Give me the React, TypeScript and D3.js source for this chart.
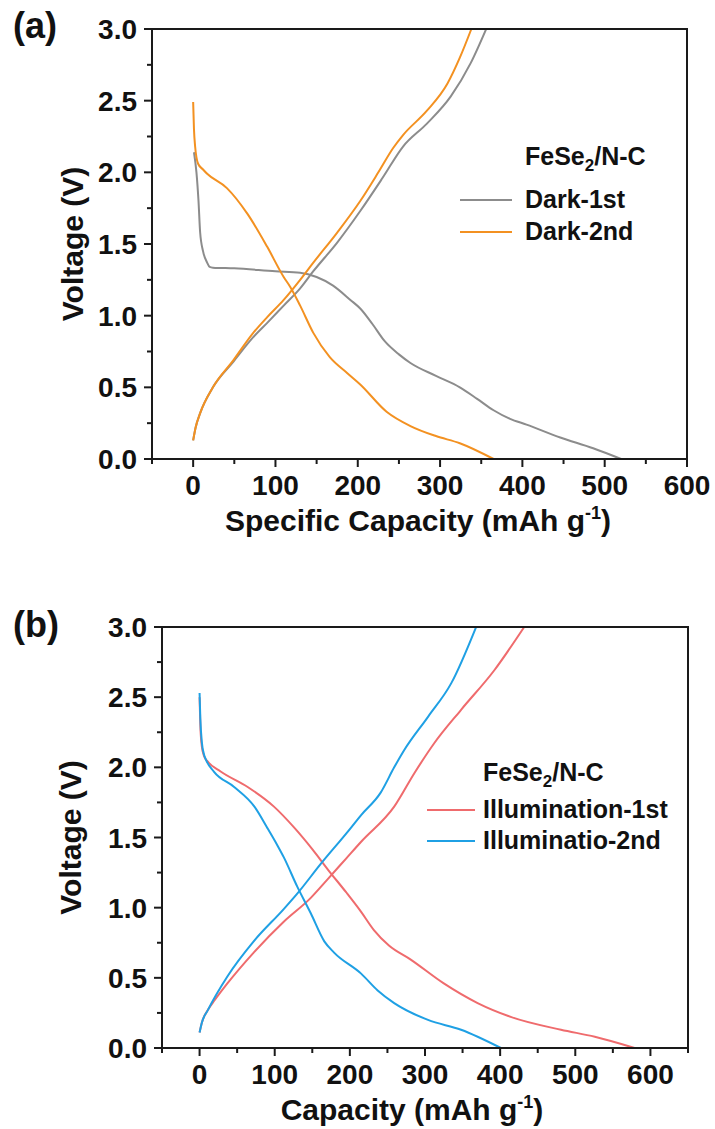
import React from "react";
import * as d3 from "d3";

type Pt = [number, number];

// ---------- Panel (a) data: capacity (mAh/g), voltage (V) ----------
const dark1Discharge: Pt[] = [[1,2.14],[4,2.0],[6.5,1.8],[8.5,1.58],[12,1.45],[17,1.37],[20,1.34],[24,1.335],[50,1.33],[100,1.31],[130,1.30],[150,1.27],[170,1.21],[191,1.11],[203,1.05],[218,0.94],[233,0.82],[250,0.73],[264,0.67],[295,0.58],[324,0.50],[345,0.42],[365,0.34],[385,0.28],[405,0.24],[446,0.15],[486,0.075],[520,0]];
const dark1Charge: Pt[] = [[0,0.13],[3,0.22],[8.5,0.32],[24,0.50],[49,0.68],[73,0.85],[90,0.95],[110,1.07],[130,1.19],[146,1.31],[175,1.51],[203,1.73],[230,1.96],[255,2.18],[284,2.34],[313,2.53],[337,2.76],[356,3.0]];
const dark2Discharge: Pt[] = [[0,2.49],[1,2.3],[2.4,2.18],[6,2.06],[12,2.02],[17,1.99],[41,1.89],[66,1.71],[90,1.48],[110,1.27],[118,1.2],[130,1.07],[146,0.88],[166,0.71],[187,0.60],[203,0.52],[235,0.33],[264,0.23],[295,0.16],[324,0.11],[365,0]];
const dark2Charge: Pt[] = [[0,0.13],[3,0.22],[8.5,0.32],[24,0.50],[49,0.69],[73,0.88],[90,0.99],[110,1.11],[130,1.25],[146,1.37],[175,1.58],[203,1.80],[225,2.0],[243,2.17],[255,2.26],[284,2.43],[309,2.62],[324,2.80],[338,3.0]];

// ---------- Panel (b) data ----------
const illum1Discharge: Pt[] = [[0,2.5],[1,2.3],[3,2.15],[6,2.08],[11,2.04],[28,1.97],[64,1.86],[99,1.72],[126,1.57],[151,1.41],[171,1.27],[195,1.11],[215,0.97],[232,0.84],[252,0.73],[281,0.63],[325,0.46],[370,0.32],[415,0.22],[481,0.13],[526,0.08],[579,0]];
const illum1Charge: Pt[] = [[0,0.11],[3,0.18],[11,0.27],[20,0.34],[37,0.46],[72,0.68],[112,0.9],[148,1.07],[170,1.2],[195,1.35],[215,1.47],[259,1.72],[286,1.96],[312,2.17],[348,2.41],[392,2.69],[432,3.0]];
const illum2Discharge: Pt[] = [[0,2.53],[1,2.35],[3,2.18],[6,2.09],[8,2.06],[19,1.97],[46,1.86],[73,1.72],[90,1.57],[104,1.44],[112,1.36],[130,1.15],[148,0.96],[166,0.76],[179,0.68],[215,0.53],[237,0.41],[259,0.32],[304,0.20],[348,0.13],[401,0]];
const illum2Charge: Pt[] = [[0,0.11],[3,0.18],[11,0.27],[37,0.51],[72,0.76],[112,0.99],[130,1.10],[161,1.31],[197,1.54],[215,1.66],[241,1.82],[259,2.0],[272,2.12],[304,2.36],[335,2.6],[368,3.0]];

const xTicksA = [0, 100, 200, 300, 400, 500, 600];
const xTicksB = [0, 100, 200, 300, 400, 500, 600];
const yTicks = [0, 0.5, 1.0, 1.5, 2.0, 2.5, 3.0];

const FONT = "'Liberation Sans', Arial, Helvetica, sans-serif";

type Series = { name: string; color: string; curves: Pt[][] };

type PanelProps = {
  label: string;
  left: number; right: number; top: number; bottom: number;
  xDomain: [number, number];
  xTicks: number[];
  xTitle: string;
  xTitleX: number;
  yTitleX: number;
  series: Series[];
  legendX: number; legendTitleY: number; legendItemYs: number[]; legendLineX: [number, number];
  labelY: number;
};

function Panel(p: PanelProps) {
  const x = d3.scaleLinear().domain(p.xDomain).range([p.left, p.right]);
  const y = d3.scaleLinear().domain([0, 3]).range([p.bottom, p.top]);
  const line = d3.line<Pt>().x(d => x(d[0])).y(d => y(d[1])).curve(d3.curveMonotoneX);
  const minorX = d3.range(p.xDomain[0], p.xDomain[1] + 1, 100);
  const minorY = d3.range(0.25, 3, 0.5);
  const cy = (p.top + p.bottom) / 2;
  return (
    <g fontFamily={FONT} fontWeight="bold" fill="#111">
      <text x={13} y={p.labelY} fontSize={36}>{p.label}</text>
      {p.series.map(s => s.curves.map((c, i) => (
        <path key={s.name + i} d={line(c) || ""} fill="none" stroke={s.color} strokeWidth={2} />
      )))}
      <rect x={p.left} y={p.top} width={p.right - p.left} height={p.bottom - p.top} fill="none" stroke="#1a1a1a" strokeWidth={2} />
      {p.xTicks.map(t => (
        <g key={"xt" + t}>
          <line x1={x(t)} x2={x(t)} y1={p.bottom} y2={p.bottom + 8} stroke="#1a1a1a" strokeWidth={2} />
          <text x={x(t)} y={p.bottom + 36} fontSize={28} textAnchor="middle">{t}</text>
        </g>
      ))}
      {minorX.map(t => (
        <line key={"xm" + t} x1={x(t)} x2={x(t)} y1={p.bottom} y2={p.bottom + 5} stroke="#1a1a1a" strokeWidth={2} />
      ))}
      {yTicks.map(t => (
        <g key={"yt" + t}>
          <line x1={p.left - 8} x2={p.left} y1={y(t)} y2={y(t)} stroke="#1a1a1a" strokeWidth={2} />
          <text x={p.left - 15} y={y(t)} dy="0.36em" fontSize={28} textAnchor="end">{t.toFixed(1)}</text>
        </g>
      ))}
      {minorY.map(t => (
        <line key={"ym" + t} x1={p.left - 5} x2={p.left} y1={y(t)} y2={y(t)} stroke="#1a1a1a" strokeWidth={2} />
      ))}
      <text transform={`translate(${p.yTitleX},${cy}) rotate(-90)`} fontSize={30} textAnchor="middle">Voltage (V)</text>
      <text x={p.xTitleX} y={p.bottom + 72} fontSize={30} textAnchor="middle">
        {p.xTitle} (mAh g<tspan fontSize={18} dy={-12}>-1</tspan><tspan dy={12}>)</tspan>
      </text>
      <text x={p.legendX} y={p.legendTitleY} fontSize={25}>
        FeSe<tspan fontSize={17} dy={6}>2</tspan><tspan dy={-6}>/N-C</tspan>
      </text>
      {p.series.map((s, i) => (
        <g key={"lg" + s.name}>
          <line x1={p.legendLineX[0]} x2={p.legendLineX[1]} y1={p.legendItemYs[i] - 8} y2={p.legendItemYs[i] - 8} stroke={s.color} strokeWidth={2} />
          <text x={p.legendX} y={p.legendItemYs[i]} fontSize={25}>{s.name}</text>
        </g>
      ))}
    </g>
  );
}

export default function App() {
  return (
    <svg width={715} height={1129} style={{ position: "absolute", left: 0, top: 0, background: "#fff" }}>
      <rect x={0} y={0} width={715} height={1129} fill="#fff" />
      <Panel
        label="(a)" labelY={38}
        left={152} right={687} top={29} bottom={459}
        xDomain={[-50, 600]} xTicks={xTicksA}
        xTitle="Specific Capacity" xTitleX={418} yTitleX={83}
        series={[
          { name: "Dark-1st", color: "#8c8c8c", curves: [dark1Discharge, dark1Charge] },
          { name: "Dark-2nd", color: "#f39121", curves: [dark2Discharge, dark2Charge] },
        ]}
        legendX={525} legendTitleY={165} legendItemYs={[208, 240]} legendLineX={[460, 512]}
      />
      <Panel
        label="(b)" labelY={637}
        left={162} right={688} top={627} bottom={1048}
        xDomain={[-50, 650]} xTicks={xTicksB}
        xTitle="Capacity" xTitleX={412} yTitleX={81}
        series={[
          { name: "Illumination-1st", color: "#ef6b6d", curves: [illum1Discharge, illum1Charge] },
          { name: "Illuminatio-2nd", color: "#1fa0e4", curves: [illum2Discharge, illum2Charge] },
        ]}
        legendX={483} legendTitleY={781} legendItemYs={[818, 849]} legendLineX={[427, 475]}
      />
    </svg>
  );
}
